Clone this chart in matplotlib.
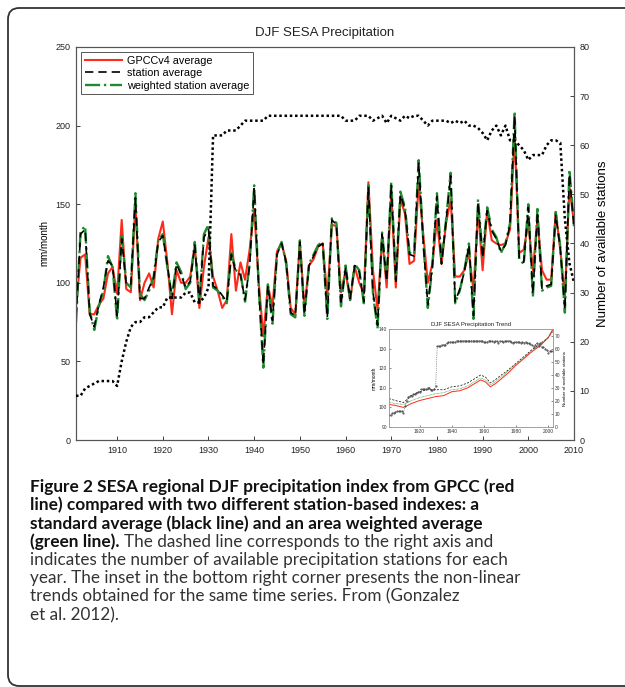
import matplotlib
matplotlib.use("Agg")
import matplotlib.pyplot as plt
from matplotlib.patches import FancyBboxPatch

# ---------------- data ----------------
years = list(range(1901, 2011))

gpcc = [85, 116, 118, 80, 80, 86, 90, 106, 110, 93,
        140, 96, 94, 150, 89, 100, 106, 97, 128, 139,
        113, 80, 108, 100, 100, 104, 124, 84, 110, 129,
        104, 95, 84, 89, 131, 95, 113, 102, 121, 147,
        100, 66, 98, 85, 120, 125, 114, 84, 80, 126,
        84, 111, 115, 123, 125, 91, 137, 136, 94, 107,
        89, 110, 100, 93, 164, 108, 83, 129, 97, 157,
        97, 153, 144, 112, 114, 163, 131, 100, 112, 140,
        112, 138, 153, 104, 104, 108, 119, 95, 146, 108,
        146, 127, 125, 124, 125, 134, 194, 119, 121, 138,
        108, 140, 108, 102, 102, 145, 121, 91, 161, 138]

station_avg = [78, 131, 134, 80, 72, 86, 97, 114, 111, 79,
               128, 99, 99, 154, 90, 90, 97, 103, 126, 130,
               111, 90, 112, 105, 97, 101, 124, 87, 129, 134,
               98, 96, 92, 88, 118, 107, 105, 89, 111, 160,
               96, 48, 98, 76, 118, 125, 113, 81, 79, 126,
               80, 111, 117, 123, 125, 78, 140, 137, 86, 110,
               90, 111, 107, 88, 161, 94, 73, 131, 101, 162,
               101, 156, 147, 118, 117, 176, 126, 86, 111, 155,
               112, 139, 168, 88, 96, 107, 124, 79, 151, 116,
               146, 133, 128, 120, 124, 137, 206, 116, 113, 148,
               93, 145, 96, 98, 99, 143, 122, 83, 169, 135]

weighted_avg = [75, 133, 136, 82, 70, 85, 95, 117, 110, 76,
                130, 100, 97, 157, 93, 89, 95, 104, 127, 131,
                110, 91, 113, 107, 96, 100, 126, 88, 131, 137,
                97, 95, 91, 87, 119, 108, 106, 88, 112, 162,
                97, 46, 99, 74, 119, 126, 112, 80, 78, 127,
                79, 112, 118, 124, 126, 77, 141, 138, 85, 111,
                89, 112, 108, 87, 162, 93, 71, 132, 102, 164,
                102, 158, 148, 119, 118, 178, 127, 84, 110, 157,
                113, 140, 170, 87, 95, 108, 125, 77, 153, 117,
                148, 134, 129, 119, 125, 138, 209, 115, 112, 150,
                91, 147, 95, 97, 98, 145, 123, 81, 172, 136]

n_stations = [9, 9, 10.5, 11, 11.5, 12, 12, 12, 12, 11,
              16, 20, 23, 24, 24, 25, 25, 26, 27, 27,
              29, 29, 29, 29, 30, 30, 28, 28, 29, 31,
              62, 62, 62, 63, 63, 63, 64, 65, 65, 65,
              65, 65, 66, 66, 66, 66, 66, 66, 66, 66,
              66, 66, 66, 66, 66, 66, 66, 66, 66, 65,
              65, 65, 66, 66, 66, 65, 65.5, 66, 64.5, 66,
              65.5, 65, 66, 65.5, 66, 66, 65, 64, 65, 65,
              65, 65, 64.5, 65, 64.5, 65, 64, 64, 63.5, 62.5,
              61, 63, 64, 62, 64, 61, 61, 60, 59, 57,
              58, 58, 58, 60, 61, 61, 60.5, 45, 36, 32]

trend_years = [1901, 1905, 1910, 1915, 1920, 1925, 1930, 1935, 1940, 1945,
               1950, 1955, 1958, 1961, 1964, 1967, 1970, 1975, 1980, 1985,
               1990, 1995, 2000, 2003]
trend_gpcc = [101.5, 101, 100, 102, 103.5, 104.5, 105.5, 106, 108, 108.5,
              110, 112.5, 114, 113, 110.5, 112, 114, 117.5, 121.5, 125,
              128.5, 131.5, 135.5, 140]
trend_weighted = [102.5, 102, 101.5, 103.5, 105, 106, 107, 107.5, 109, 109.5,
                  111, 113.5, 115, 114, 111.5, 113, 115, 118.5, 122, 125.5,
                  129, 132, 136, 140]
trend_station = [104.5, 103.5, 102.5, 106, 108, 109, 109, 109, 110.5, 111,
                 112.5, 115, 116.5, 115.5, 112.5, 114, 116, 119, 122.5, 126,
                 129.5, 132.5, 135.5, 139]

main_xticks = list(range(1910, 2011, 10))
left_yticks = list(range(0, 251, 50))
right_yticks = list(range(0, 81, 10))
inset_xticks = list(range(1920, 2001, 20))
inset_left_ticks = list(range(90, 141, 10))
inset_right_ticks = list(range(0, 71, 10))

caption_bold = ["Figure 2 SESA regional DJF precipitation index from GPCC (red",
                "line) compared with two different station-based indexes: a",
                "standard average (black line) and an area weighted average",
                "(green line)."]
caption_regular = ["The dashed line corresponds to the right axis and",
                   "indicates the number of available precipitation stations for each",
                   "year. The inset in the bottom right corner presents the non-linear",
                   "trends obtained for the same time series. From (Gonzalez",
                   "et al. 2012)."]

# ---------------- figure ----------------
plt.rcParams['font.family'] = ['Liberation Sans', 'DejaVu Sans']
W, H = 625, 687
fig = plt.figure(figsize=(W / 100, H / 100), dpi=100)
fig.patch.set_facecolor('white')


def fx(px):
    return px / W


def fy(py):
    return 1 - py / H


RED = '#ff2a1a'
GREEN = '#1e8c2e'
SPINE = '#555555'

ax = fig.add_axes([fx(76), fy(440), fx(574) - fx(76), fy(47) - fy(440)])
l1, = ax.plot(years, gpcc, color=RED, lw=1.5, label='GPCCv4 average', zorder=2)
l3, = ax.plot(years, weighted_avg, color=GREEN, lw=1.7, ls='-.', label='weighted station average', zorder=3)
l2, = ax.plot(years, station_avg, color='black', lw=1.2, ls=(0, (5, 3)), label='station average', zorder=4)
ax.set_xlim(1901, 2010)
ax.set_ylim(0, 250)
ax.set_xticks(main_xticks)
ax.set_yticks(left_yticks)
ax.tick_params(direction='in', length=3, labelsize=6.5, pad=4, width=0.6, colors='#222222')
for s in ax.spines.values():
    s.set_color(SPINE)
    s.set_linewidth(0.8)
ax.set_ylabel('mm/month', fontsize=7, labelpad=4)

ax2 = ax.twinx()
ax2.plot(years, n_stations, color='black', lw=1.8, ls=(0, (1, 1.1)), zorder=3)
ax2.set_ylim(0, 80)
ax2.set_yticks(right_yticks)
ax2.tick_params(direction='in', length=3, labelsize=6.5, pad=4, width=0.6, colors='#222222')
for s in ax2.spines.values():
    s.set_color(SPINE)
    s.set_linewidth(0.8)
ax2.set_ylabel('Number of available stations', fontsize=9.5, labelpad=5)

leg = ax.legend(handles=[l1, l2, l3], loc='upper left', bbox_to_anchor=(0.01, 0.987),
                borderaxespad=0, fontsize=7.8, frameon=True, fancybox=False,
                edgecolor='#555555', framealpha=1, handlelength=3.4, handletextpad=0.5,
                labelspacing=0.22, borderpad=0.35)
leg.get_frame().set_linewidth(0.7)
leg.set_zorder(20)

fig.text(fx(325), fy(33), 'DJF SESA Precipitation', ha='center', va='center', fontsize=9.5, color='#222222')

# ---------------- inset ----------------
axi = fig.add_axes([fx(389), fy(427), fx(553) - fx(389), fy(329) - fy(427)])
axi.set_zorder(10)
axi.set_facecolor('white')
axi.plot(trend_years, trend_station, color='black', lw=0.5, ls=(0, (3, 2)))
axi.plot(trend_years, trend_weighted, color=GREEN, lw=0.5, ls=(0, (1, 1)))
axi.plot(trend_years, trend_gpcc, color=RED, lw=0.7)
axi.set_xlim(1901, 2003)
axi.set_ylim(90, 140)
axi.set_xticks(inset_xticks)
axi.set_yticks(inset_left_ticks)
axi.tick_params(direction='in', length=1.5, labelsize=3.5, pad=1.5, width=0.4, colors='#333333')
for s in axi.spines.values():
    s.set_color('#999999')
    s.set_linewidth(0.5)
axi.set_ylabel('mm/month', fontsize=3.5, labelpad=1.5)
axi.set_title('DJF SESA Precipitation Trend', fontsize=4.3, pad=2.5, color='#222222')

axi2 = axi.twinx()
axi2.set_zorder(11)
axi2.patch.set_visible(False)
axi2.plot(years, n_stations, color='#444444', lw=0.5, ls=':', marker='.', markersize=1.0)
axi2.set_ylim(0, 75)
axi2.set_yticks(inset_right_ticks)
axi2.tick_params(direction='in', length=1.5, labelsize=3.5, pad=1.5, width=0.4, colors='#333333')
for s in axi2.spines.values():
    s.set_color('#999999')
    s.set_linewidth(0.5)
axi2.set_ylabel('Number of available stations', fontsize=3.2, labelpad=1.5)

# ---------------- border ----------------
border = FancyBboxPatch((fx(8), fy(686)), 1.2, fy(8) - fy(686),
                        boxstyle='round,pad=0,rounding_size=0.018',
                        mutation_aspect=W / H, transform=fig.transFigure,
                        fill=False, edgecolor='#333333', lw=1.3, clip_on=False)
fig.add_artist(border)

# ---------------- caption ----------------
cap_family = ['Lato', 'Roboto', 'DejaVu Sans']
renderer = fig.canvas.get_renderer()


def text_width(s, size, **kw):
    t = fig.text(0, 0, s, fontsize=size, family=cap_family, **kw)
    w = t.get_window_extent(renderer).width
    t.remove()
    return w


bold_size = 10 * 485 / text_width(caption_bold[0], 10, weight='bold')
reg_size = 10 * 478 / text_width(caption_regular[1], 10)

line_y = [486.7, 505, 523.3, 541.7, 560, 578.3, 596.7, 615]
x0 = 30
for i, s in enumerate(caption_bold):
    fig.text(fx(x0), fy(line_y[i]), s, fontsize=bold_size, weight='bold',
             family=cap_family, ha='left', va='center', color='#111111')
wb = text_width(caption_bold[3], bold_size, weight='bold')
gap = text_width('a a', reg_size) - 2 * text_width('a', reg_size)
fig.text(fx(x0 + wb + gap), fy(line_y[3]), caption_regular[0], fontsize=reg_size,
         family=cap_family, ha='left', va='center', color='#333333')
for j, s in enumerate(caption_regular[1:]):
    fig.text(fx(x0), fy(line_y[4 + j]), s, fontsize=reg_size,
             family=cap_family, ha='left', va='center', color='#333333')

fig.savefig('out.png', dpi=100, facecolor='white')
